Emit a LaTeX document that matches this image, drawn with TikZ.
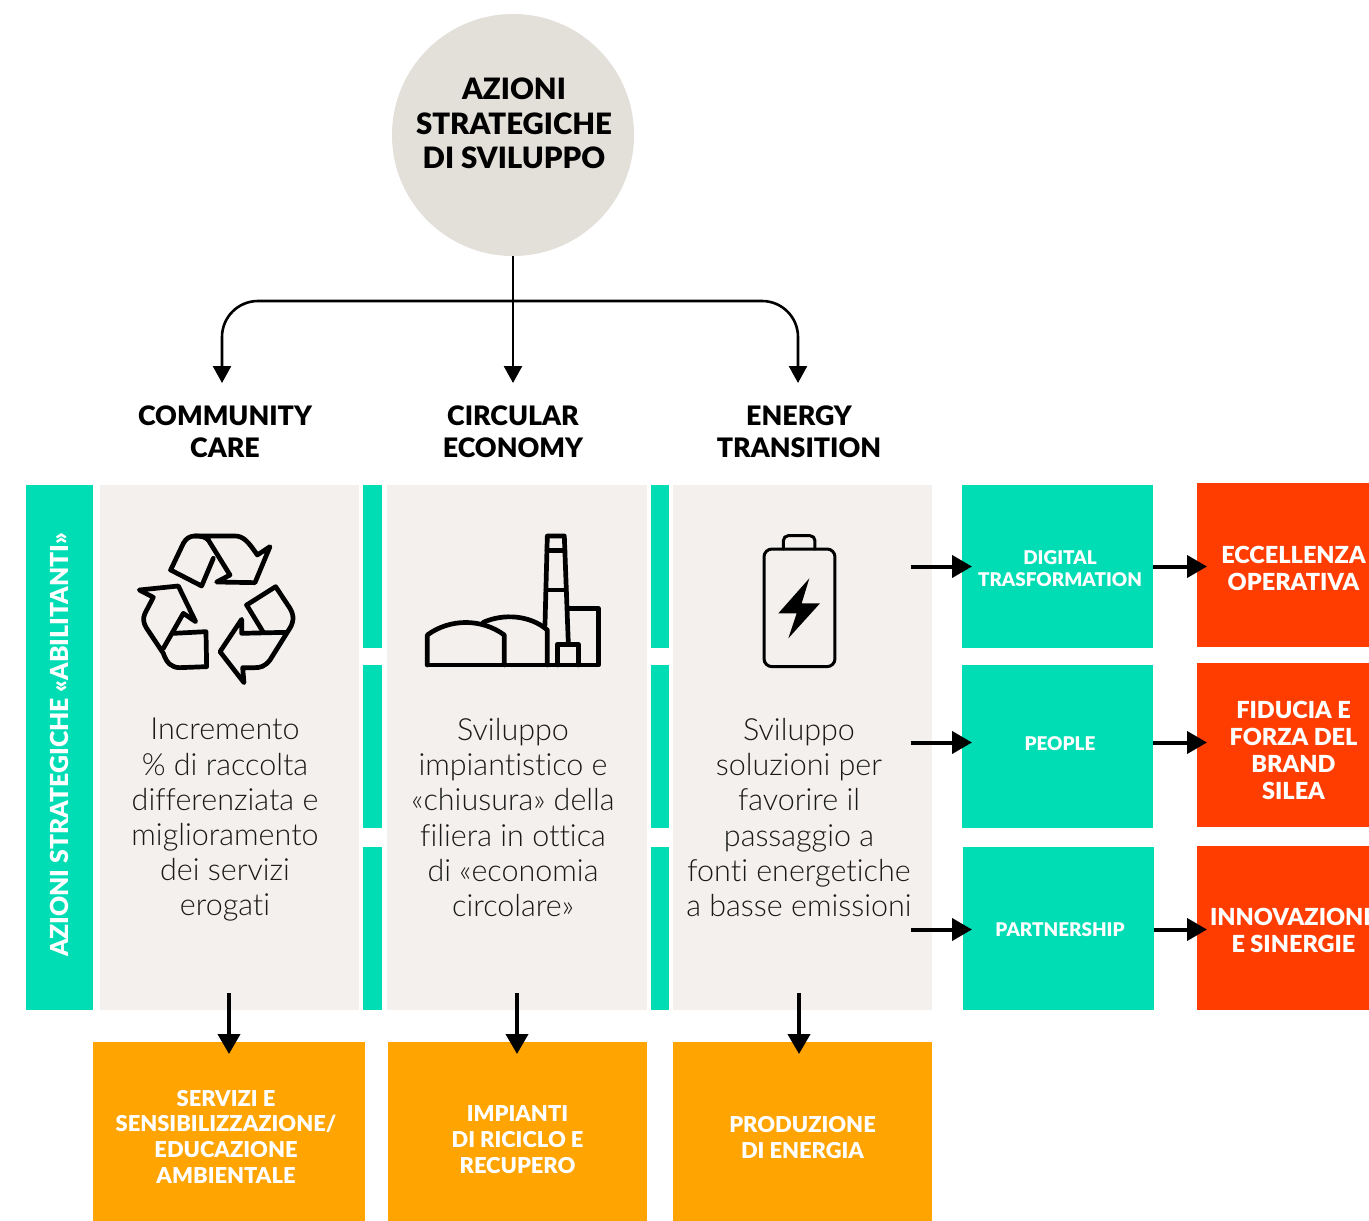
\documentclass[tikz,border=0pt]{standalone}
\usepackage{fontspec}
\setmainfont{Lato Light}[BoldFont={Lato Black},Ligatures=NoCommon]
\usetikzlibrary{arrows.meta}
\definecolor{tgreen}{HTML}{00DDB5}
\definecolor{tred}{HTML}{FF3D00}
\definecolor{torange}{HTML}{FFA400}
\definecolor{tpanel}{HTML}{F3F0ED}
\definecolor{tcircle}{HTML}{E3DFD9}
\tikzset{
  x=1pt,y=-1pt,
  flat/.style={inner sep=0pt,outer sep=0pt,align=center},
  panel/.style={flat,fill=tpanel},
  strip/.style={flat,fill=tgreen},
  greenbox/.style={flat,fill=tgreen},
  greentext/.style={flat,text=white,font=\fontsize{18.9}{22}\selectfont\bfseries},
  redbox/.style={flat,fill=tred},
  redtext/.style={flat,text=white,font=\fontsize{23.5}{27}\selectfont\bfseries},
  orangebox/.style={flat,fill=torange},
  orangetext/.style={flat,text=white,font=\fontsize{21.9}{25.7}\selectfont\bfseries},
  body/.style={flat,font=\fontsize{30.5}{35.2}\selectfont\color{black!90}},
  head/.style={flat,font=\fontsize{26.8}{32}\selectfont\bfseries,text=black},
  thin arrow/.style={line width=2.6pt,-{Stealth[length=17pt,width=18pt,inset=0pt]}},
  thick arrow/.style={line width=4pt,-{Stealth[length=20pt,width=22pt,inset=0pt]}},
  icon/.style={line width=4.7pt,line join=round,line cap=round,black},
}
\newcommand{\rbox}[6]{% style,name,x1,y1,x2,y2
  \node[#1,minimum width=\dimexpr#5pt-#3pt\relax,minimum height=\dimexpr#6pt-#4pt\relax] (#2) at ({(#3+#5)/2},{(#4+#6)/2}) {};}
\begin{document}
\begin{tikzpicture}
\useasboundingbox (0,0) rectangle (1369,1221);
\begin{scope}
\clip (0,0) rectangle (1369,1221);
\node[flat,circle,fill=tcircle,minimum size=242pt] (root) at (513,135) {};
\node[flat,font=\fontsize{29.4}{34.6}\selectfont\bfseries,text=black] (roottext) at (514,123.5) {AZIONI\\STRATEGICHE\\DI SVILUPPO};

\node[head] (h1) at (225,432) {COMMUNITY\\CARE};
\node[head] (h2) at (513,432) {CIRCULAR\\ECONOMY};
\node[head] (h3) at (799,432) {ENERGY\\TRANSITION};

\rbox{strip}{side}{26}{485}{93}{1010}
\node[flat,rotate=90,text=white,font=\fontsize{24.8}{30}\selectfont\bfseries] (sidetext) at (59.5,745) {AZIONI STRATEGICHE «ABILITANTI»};

\rbox{panel}{p1}{100}{485}{359}{1010}
\rbox{panel}{p2}{387}{485}{647}{1010}
\rbox{panel}{p3}{673}{485}{932}{1010}

\rbox{strip}{sa1}{363}{485}{382}{648}
\rbox{strip}{sa2}{363}{665}{382}{828}
\rbox{strip}{sa3}{363}{847}{382}{1010}
\rbox{strip}{sb1}{651}{485}{669}{648}
\rbox{strip}{sb2}{651}{665}{669}{828}
\rbox{strip}{sb3}{651}{847}{669}{1010}

\node[body] (t1) at (225,820) {Incremento\\\% di raccolta\\differenziata e\\miglioramento\\dei servizi\\erogati};
\node[body] (t2) at (513,817.5) {Sviluppo\\impiantistico e\\«chiusura» della\\filiera in ottica\\di «economia\\circolare»};
\node[body] (t3) at (799,817.5) {Sviluppo\\soluzioni per\\favorire il\\passaggio a\\fonti energetiche\\a basse emissioni};

\rbox{greenbox}{g1}{962}{485}{1153}{648}
\rbox{greenbox}{g2}{962}{665}{1153}{828}
\rbox{greenbox}{g3}{963}{847}{1154}{1010}
\node[greentext] (gt1) at (1060,569) {DIGITAL\\TRASFORMATION};
\node[greentext] (gt2) at (1060,744) {PEOPLE};
\node[greentext] (gt3) at (1060,929.5) {PARTNERSHIP};

\node[redbox,minimum width=172pt,minimum height=164pt] (r1) at (1283,565) {};
\node[redbox,minimum width=172pt,minimum height=164pt] (r2) at (1283,745) {};
\node[redbox,minimum width=172pt,minimum height=164pt] (r3) at (1283,928) {};
\node[redtext] (rt1) at (1293.5,568) {ECCELLENZA\\OPERATIVA};
\node[redtext] (rt2) at (1293.5,750) {FIDUCIA E\\FORZA DEL\\BRAND\\SILEA};
\node[redtext] (rt3) at (1293.5,930) {INNOVAZIONE\\E SINERGIE};

\rbox{orangebox}{o1}{93}{1042}{365}{1221}
\rbox{orangebox}{o2}{388}{1042}{647}{1221}
\rbox{orangebox}{o3}{673}{1042}{932}{1221}
\node[orangetext] (ot1) at (226,1136.5) {SERVIZI E\\SENSIBILIZZAZIONE/\\EDUCAZIONE\\AMBIENTALE};
\node[orangetext] (ot2) at (517.5,1139.5) {IMPIANTI\\DI RICICLO E\\RECUPERO};
\node[orangetext] (ot3) at (802.5,1137.5) {PRODUZIONE\\DI ENERGIA};

% connectors from the circle
\coordinate (bus) at (513,301);
\coordinate (a1) at (222,383);
\coordinate (a2) at (513,383);
\coordinate (a3) at (798,383);
\draw[thin arrow] (root.south) -- (a2);
\draw[thin arrow,rounded corners=36pt] (bus) -| (a1);
\draw[thin arrow,rounded corners=36pt] (bus) -| (a3);

% downward connectors
\coordinate (d1s) at (229,993); \coordinate (d1e) at (229,1054);
\coordinate (d2s) at (517,993); \coordinate (d2e) at (517,1054);
\coordinate (d3s) at (799,993); \coordinate (d3e) at (799,1054);
\draw[thick arrow] (d1s) -- (d1e);
\draw[thick arrow] (d2s) -- (d2e);
\draw[thick arrow] (d3s) -- (d3e);

% horizontal connectors
\coordinate (e1s) at (911,566.5); \coordinate (e1e) at (972,566.5);
\coordinate (e2s) at (911,742.5); \coordinate (e2e) at (972,742.5);
\coordinate (e3s) at (911,929.5); \coordinate (e3e) at (972,929.5);
\coordinate (f1e) at (1207,566.5);
\coordinate (f2e) at (1207,742.5);
\coordinate (f3e) at (1207,929.5);
\draw[thick arrow] (e1s) -- (e1e);
\draw[thick arrow] (e2s) -- (e2e);
\draw[thick arrow] (e3s) -- (e3e);
\draw[thick arrow] (g1.east |- e1e) -- (f1e);
\draw[thick arrow] (g2.east |- e2e) -- (f2e);
\draw[thick arrow] (g3.east |- e3e) -- (f3e);

% recycling icon
\begin{scope}[shift={(100,500)},x=0.3333pt,y=-0.3333pt,icon]
\draw (212,210) -- (250,130) .. controls (258,115) and (270,108) .. (285,108) -- (405,108) .. controls (430,108) and (445,125) .. (472,165) -- (510,140) -- (465,248) -- (350,246) -- (390,225) -- (325,120);
\draw (285,108) .. controls (303,108) and (315,110) .. (325,120);
\draw (340,175) -- (305,258) -- (212,210);
\draw (190,445) -- (250,340) -- (287,365) -- (235,258) -- (118,270) -- (160,292) -- (135,340) .. controls (128,355) and (130,370) .. (140,385) -- (190,460) .. controls (200,490) and (215,503) .. (240,503) -- (320,500) -- (318,395) -- (222,400);
\draw (440,315) -- (527,260) -- (570,325) .. controls (585,350) and (580,370) .. (565,392) -- (510,480) .. controls (495,500) and (480,503) .. (465,503) -- (428,503) -- (432,548) -- (360,455) -- (425,358) -- (425,400) -- (560,397);
\draw (440,315) -- (490,397);
\end{scope}

% plant icon
\begin{scope}[shift={(400,510)},x=0.3333pt,y=-0.3333pt,icon]
\draw (82,465) -- (595,465) -- (595,295) -- (505,295);
\draw (82,465) -- (82,375) .. controls (150,325) and (245,325) .. (313,375) -- (313,465);
\draw (250,337) .. controls (310,310) and (390,315) .. (442,360) -- (442,465);
\draw (435,345) -- (442,78) -- (493,78) -- (505,400);
\draw (441,122) -- (495,122);
\draw (438,240) -- (498,240);
\draw (472,465) -- (472,403) -- (535,403) -- (535,465);
\end{scope}

% battery icon
\begin{scope}[shift={(740,520)},x=0.3333pt,y=-0.3333pt,icon,line width=3pt]
\draw[rounded corners=8pt] (72,87) rectangle (285,440);
\draw[rounded corners=5pt] (130,87) -- (130,47) -- (225,47) -- (225,87);
\fill[black] (208,175) -- (115,280) -- (170,280) -- (145,355) -- (240,250) -- (185,250) -- cycle;
\end{scope}
\end{scope}
\end{tikzpicture}
\end{document}
